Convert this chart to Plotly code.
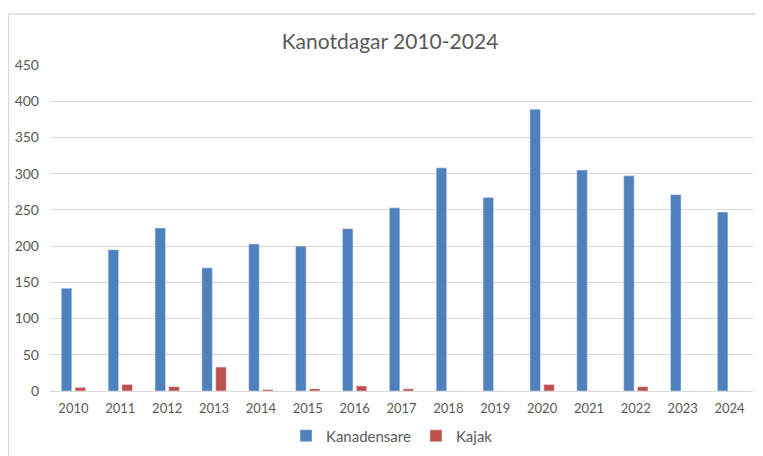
import plotly.graph_objects as go

years = [str(y) for y in range(2010, 2025)]
kanadensare = [142, 195, 225, 170, 203, 200, 224, 253, 308, 267, 389, 305, 297, 271, 247]
kajak = [5, 9, 6, 33, 2, 3, 7, 3, 0, 0, 9, 0, 6, 0, 0]

# page has an 8px body margin; work in figure coordinates
OFF = 8
W, H = 763 - OFF, 456 - OFF
ml, mr, mt, mb = 50 - OFF, 10, 65 - OFF, 65
pw, ph = W - ml - mr, H - mt - mb

fig = go.Figure()
fig.add_trace(go.Bar(name="Kanadensare", x=years, y=kanadensare, marker_color="#4F81BD"))
fig.add_trace(go.Bar(name="Kajak", x=years, y=kajak, marker_color="#C0504D"))

def px_x(x):
    return (x - OFF - ml) / pw

def px_y(y):
    return (H - mb - (y - OFF)) / ph

fig.update_layout(
    width=W, height=H,
    margin=dict(l=ml, r=mr, t=mt, b=mb, autoexpand=False),
    paper_bgcolor="white", plot_bgcolor="white",
    font=dict(family="Lato", color="#595959", size=13),
    title=dict(text="Kanotdagar 2010-2024", x=(390 - OFF) / W, xanchor="center",
               y=1 - (42 - OFF) / H, yanchor="middle", yref="container",
               font=dict(size=21, color="#595959", family="Lato")),
    barmode="group", bargap=0.41, bargroupgap=0.24,
    showlegend=True,
    legend=dict(orientation="h", x=px_x(392), xanchor="center", y=px_y(436), yanchor="middle",
                font=dict(size=15, color="#595959"), itemwidth=30, traceorder="normal"),
    xaxis=dict(type="category", showgrid=False, showline=False, ticks="", automargin=False,
               ticklabelstandoff=8, tickfont=dict(size=13)),
    yaxis=dict(range=[0, 450], dtick=50, showgrid=True, gridcolor="#D9D9D9", gridwidth=1,
               zeroline=True, zerolinecolor="#D9D9D9", zerolinewidth=1, automargin=False,
               showline=False, ticks="", ticklabelstandoff=10, tickfont=dict(size=14)),
    shapes=[
        dict(type="line", xref="paper", yref="paper", x0=px_x(8.5), x1=px_x(763 + 5),
             y0=px_y(14), y1=px_y(14), line=dict(color="#D9D9D9", width=1.5)),
        dict(type="line", xref="paper", yref="paper", x0=px_x(8.5), x1=px_x(8.5),
             y0=px_y(14), y1=px_y(456 + 5), line=dict(color="#D9D9D9", width=1.5)),
    ],
)

fig.write_html("out.html")
